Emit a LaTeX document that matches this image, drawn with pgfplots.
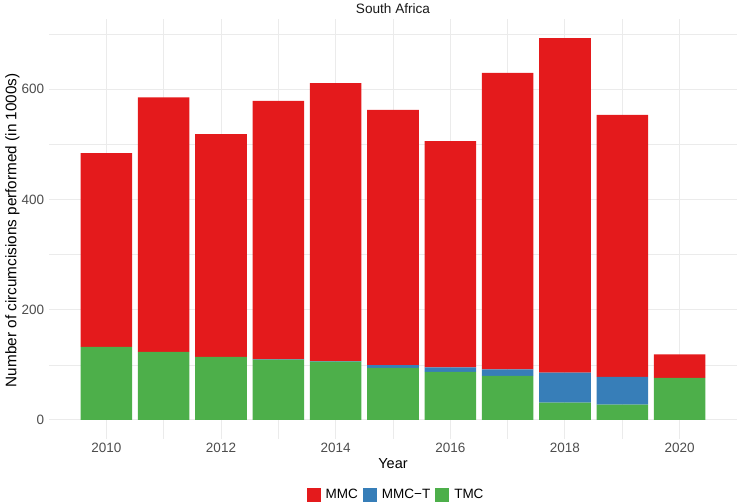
\documentclass[border=0pt]{standalone}
\usepackage{pgfplots}
\pgfplotsset{compat=1.18}
\usepackage{fontspec}
\setmainfont{Liberation Sans}
\definecolor{mmc}{HTML}{E41A1C}
\definecolor{mmct}{HTML}{377EB8}
\definecolor{tmc}{HTML}{4DAF4A}
\definecolor{gridc}{HTML}{EBEBEB}
\definecolor{tickc}{HTML}{4D4D4D}
\pgfplotstableread{
year TMC MMCT MMC
2010 132.7 0 351.3
2011 123.6 0 461.4
2012 114.5 0 404.1
2013 109.3 1.0 468.7
2014 105.7 1.0 504.3
2015 94.6 4.9 463.1
2016 87.4 7.9 410.7
2017 80.1 11.6 537.8
2018 31.3 54.3 607.2
2019 27.7 50.6 475.2
2020 76.5 0 42.3
}\datatable
\begin{document}
\begin{tikzpicture}
\useasboundingbox (0,0) rectangle (739bp,503bp);
\begin{axis}[
  at={(49.3bp,64bp)}, anchor=south west,
  scale only axis, width=687.4bp, height=420bp,
  xmin=2009.005, xmax=2020.995, ymin=-34.6, ymax=727.4,
  ybar stacked, bar width=0.9,
  axis line style={draw=none},
  major tick length=0pt, minor tick length=0pt,
  xtick={2010,2012,...,2020}, minor xtick={2011,2013,...,2019},
  ytick={0,200,400,600}, minor ytick={100,300,500,700},
  grid=both,
  major grid style={gridc, line width=1bp},
  minor grid style={gridc, line width=0.6bp},
  /pgf/number format/assume math mode=true,
  /pgf/number format/1000 sep={},
  xticklabel style={font=\fontsize{13.5bp}{16bp}\selectfont, text=tickc, inner sep=0pt, anchor=north, yshift=-4.3bp},
  yticklabel style={font=\fontsize{13.5bp}{16bp}\selectfont, text=tickc, inner sep=0pt, anchor=east, xshift=-5bp},
  xlabel={Year},
  ylabel={Number of circumcisions performed (in 1000s)},
  xlabel style={at={(axis description cs:0.5,-0.0452)}, anchor=north, inner sep=0pt, font=\fontsize{14.5bp}{17bp}\selectfont},
  ylabel style={at={(axis description cs:-0.0431,0.497)}, anchor=south, inner sep=0pt, font=\fontsize{15.3bp}{18bp}\selectfont},
  every axis title shift=0pt,
  title={South Africa},
  title style={at={(axis description cs:0.5,1.0119)}, anchor=base, inner sep=0pt, font=\fontsize{13.6bp}{16bp}\selectfont, text=black!90},
  reverse legend,
  legend columns=-1,
  legend image code/.code={\fill[#1] (0bp,-7bp) rectangle (14bp,7bp);},
  legend style={at={(0.503,-0.1326)}, anchor=center, draw=none, fill=none,
    font=\fontsize{13.5bp}{16bp}\selectfont, nodes={inner sep=0pt},
    /tikz/every odd column/.append style={column sep=5bp},
    /tikz/every even column/.append style={column sep=5bp}},
]
\addplot[fill=tmc, draw=none] table[x=year, y=TMC] {\datatable};
\addplot[fill=mmct, draw=none] table[x=year, y=MMCT] {\datatable};
\addplot[fill=mmc, draw=none] table[x=year, y=MMC] {\datatable};
\legend{TMC, MMC−T, MMC}
\end{axis}
\end{tikzpicture}
\end{document}
